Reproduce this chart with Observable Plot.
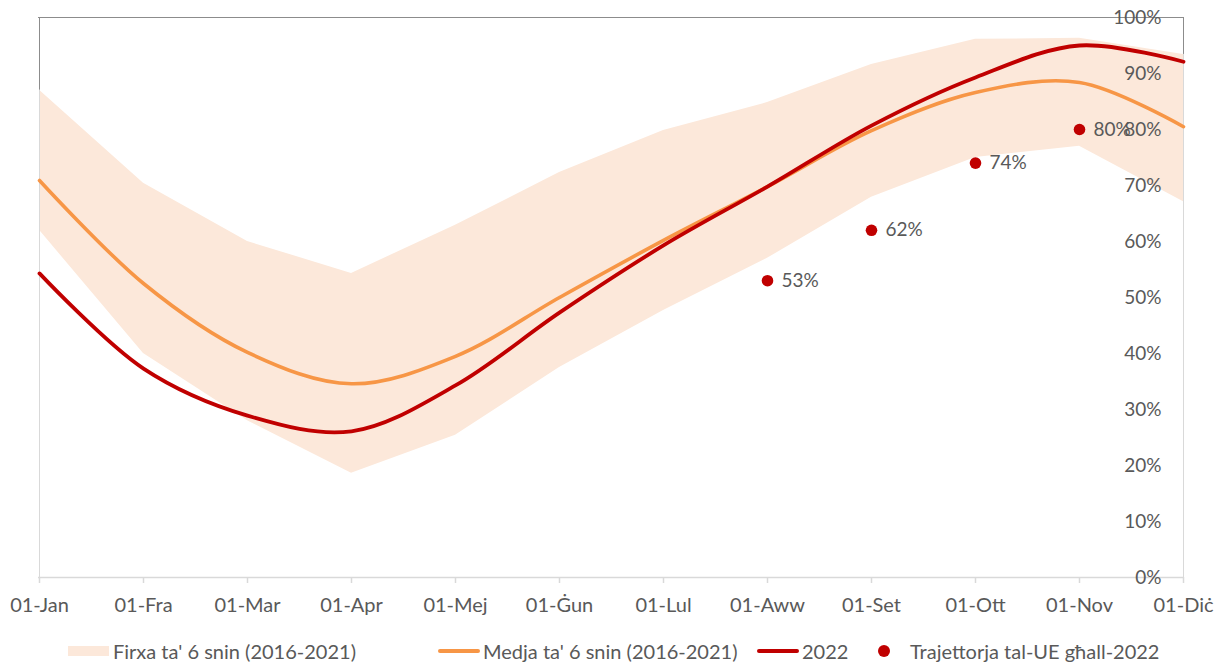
<!DOCTYPE html>
<html>
<head>
<meta charset="utf-8">
<script src="https://cdn.jsdelivr.net/npm/d3@7"></script>
<script src="https://cdn.jsdelivr.net/npm/@observablehq/plot@0.6"></script>
<style>
  html, body { margin: 0; padding: 0; background: #fff; }
  #wrap { position: relative; width: 1219px; height: 664px; font-family: Lato, "Open Sans", sans-serif; }
  #legend { position: absolute; left: 0; top: 640px; width: 1219px; height: 22px; font-size: 20px; color: #595959; }
  .li { position: absolute; top: 0; display: flex; align-items: center; height: 22px; white-space: nowrap; }
  .sw-band { width: 41px; height: 10px; background: #fce8da; margin-right: 4px; }
  .sw-line { width: 42px; height: 4px; border-radius: 2px; margin-right: 3px; }
  .sw-dot { width: 12px; height: 12px; border-radius: 50%; background: #c00000; }
</style>
</head>
<body>
<div id="wrap">
  <div id="chart"></div>
  <div id="legend"></div>
</div>
<script>
// ---- data ----
const months = ["01-Jan","01-Fra","01-Mar","01-Apr","01-Mej","01-Ġun","01-Lul","01-Aww","01-Set","01-Ott","01-Nov","01-Diċ"];
const rangeLow  = [62, 40, 28, 18.6, 25.4, 37.5, 47.7, 57, 67.9, 75, 77, 67.1];
const rangeHigh = [87, 70.4, 60, 54.3, 62.9, 72.3, 79.8, 84.8, 91.6, 96.1, 96.3, 93.4];
const median    = [70.9, 52.5, 40.2, 34.6, 39.5, 50, 60.2, 69.8, 79.8, 86.6, 88.4, 80.5];
const y2022     = [54.3, 37.3, 28.9, 26.1, 34.3, 47.3, 59.3, 69.8, 80.7, 89.3, 95, 92.1];
const trajMonths = ["01-Aww","01-Set","01-Ott","01-Nov"];
const trajValues = [53, 62, 74, 80];
const yTicks = [0,10,20,30,40,50,60,70,80,90,100];
const legendLabels = ["Firxa ta' 6 snin (2016-2021)", "Medja ta' 6 snin (2016-2021)", "2022", "Trajettorja tal-UE għall-2022"];

const colBand = "#fce8da", colMedian = "#f79646", colRed = "#c00000", textCol = "#595959";

const rows = months.map((m, i) => ({m, lo: rangeLow[i], hi: rangeHigh[i], med: median[i], cur: y2022[i]}));
const traj = trajMonths.map((m, i) => ({m, v: trajValues[i]}));
const edges = [rows[0], rows[rows.length - 1]];

const chart = Plot.plot({
  width: 1219,
  height: 625,
  marginTop: 17,
  marginBottom: 48,
  marginLeft: 38,
  marginRight: 35,
  style: {fontFamily: "Lato, 'Open Sans', sans-serif", fontSize: "20px", color: textCol, background: "#fff", overflow: "visible"},
  x: {type: "point", domain: months, padding: 0, label: null},
  y: {domain: [0, 100], axis: null},
  marks: [
    Plot.areaY(rows, {x: "m", y1: "lo", y2: "hi", fill: colBand}),
    Plot.ruleY([100], {stroke: "#8c8c8c", strokeWidth: 1}),
    Plot.ruleX(edges, {x: "m", y1: "hi", y2: 100, stroke: "#8c8c8c", strokeWidth: 1}),
    Plot.ruleX(edges, {x: "m", y1: 0, y2: "hi", stroke: "#d9d9d9", strokeWidth: 1}),
    Plot.ruleY([0], {stroke: "#d9d9d9", strokeWidth: 1.5}),
    Plot.axisX({tickSize: 6, tickPadding: 14, stroke: "#d9d9d9", strokeWidth: 1.5, fill: textCol, fontSize: 20, label: null}),
    Plot.lineY(rows, {x: "m", y: "med", stroke: colMedian, strokeWidth: 3.6, curve: "catmull-rom"}),
    Plot.lineY(rows, {x: "m", y: "cur", stroke: colRed, strokeWidth: 3.8, curve: "catmull-rom"}),
    Plot.dot(traj, {x: "m", y: "v", r: 5.8, fill: colRed, stroke: null}),
    Plot.text(traj, {x: "m", y: "v", text: d => d.v + "%", textAnchor: "start", dx: 14, fill: textCol, fontSize: 19}),
    Plot.text(yTicks, {x: () => months[months.length - 1], y: d => d, text: d => d + "%", textAnchor: "end", dx: -22, fill: textCol, fontSize: 19})
  ]
});
document.getElementById("chart").appendChild(chart);

// ---- legend ----
const legend = document.getElementById("legend");
const items = [
  {left: 68, sw: `<div class="sw-band"></div>`, label: legendLabels[0]},
  {left: 438, sw: `<div class="sw-line" style="background:${colMedian}"></div>`, label: legendLabels[1]},
  {left: 757, sw: `<div class="sw-line" style="background:${colRed}"></div>`, label: legendLabels[2]},
  {left: 878, sw: `<div class="sw-dot" style="margin-right:20px"></div>`, label: legendLabels[3]}
];
for (const it of items) {
  const d = document.createElement("div");
  d.className = "li";
  d.style.left = it.left + "px";
  d.innerHTML = it.sw + `<span>${it.label}</span>`;
  legend.appendChild(d);
}
</script>
</body>
</html>
